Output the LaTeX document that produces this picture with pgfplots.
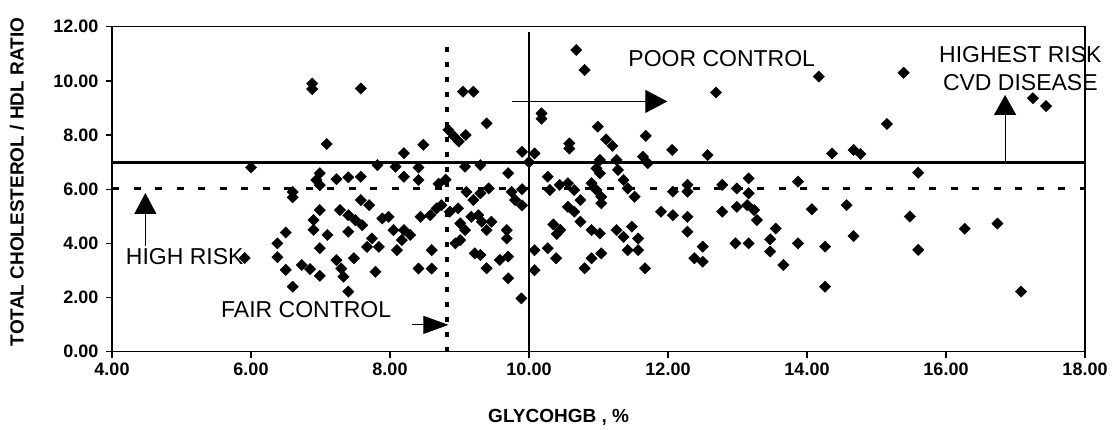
\documentclass[border=0pt]{standalone}
\usepackage{pgfplots}
\pgfplotsset{compat=1.18}
\usepackage{fontspec}
\setmainfont{Liberation Sans}
\usetikzlibrary{arrows.meta}

\begin{document}
\begin{tikzpicture}
\begin{axis}[
  width=973pt, height=325pt, scale only axis,
  xmin=4, xmax=18, ymin=0, ymax=12,
  xtick={4,6,...,18}, ytick={0,2,...,12},
  clip=false,
  axis line style={line width=1.3pt},
  tick style={line width=1.3pt, black},
  tick align=outside, major tick length=6pt,
  xtick pos=bottom, ytick pos=left,
  /pgf/number format/.cd, fixed, fixed zerofill, precision=2, assume math mode=true,
  /pgfplots/.cd,
  ticklabel style={font=\fontsize{18}{20}\selectfont\bfseries},
  xticklabel style={yshift=-2pt},
  yticklabel style={xshift=-4pt},
  xlabel={GLYCOHGB , \%},
  ylabel={TOTAL CHOLESTEROL / HDL RATIO},
  every axis x label/.style={at={(axis description cs:0.459,0)}, yshift=-66pt, anchor=center,
    font=\fontsize{19}{21}\selectfont\bfseries},
  every axis y label/.style={at={(axis description cs:0,0.522)}, xshift=-95pt, rotate=90, anchor=center,
    font=\fontsize{19}{21}\selectfont\bfseries},
]
% reference lines
\addplot[black, line width=2.8pt] coordinates {(4,7) (18,7)};
\addplot[black, line width=3.2pt, dash pattern=on 7pt off 14.5pt] coordinates {(4,6.03) (18,6.03)};
\addplot[black, line width=2.8pt] coordinates {(10,0) (10,11.82)};
\addplot[black, line width=3.2pt, dash pattern=on 4.5pt off 10.5pt] coordinates {(8.82,0) (8.82,11.45)};

% patients
\addplot[only marks, mark=square*, mark size=4pt,
  mark options={rotate=45, fill=black, draw=black}] table {
x y
5.91 3.46
6.00 6.80
6.38 4.00
6.38 3.49
6.50 4.40
6.50 3.02
6.60 2.40
6.60 5.90
6.60 5.70
6.73 3.20
6.85 3.05
6.88 9.90
6.88 9.70
6.90 4.86
6.90 4.50
6.99 6.59
6.94 6.34
6.99 6.15
6.99 5.23
6.99 3.82
6.99 2.80
7.10 4.31
7.09 7.67
7.23 6.37
7.40 6.44
7.40 4.43
7.23 3.38
7.30 3.07
7.33 2.77
7.40 2.22
7.28 5.23
7.40 5.04
7.50 4.86
7.60 4.67
7.48 3.45
7.58 9.72
7.58 6.46
7.58 5.60
7.70 5.41
7.67 3.87
7.74 4.18
7.84 3.87
7.79 2.95
7.82 6.89
7.89 4.92
7.98 4.98
8.05 4.49
8.08 6.83
8.10 3.75
8.17 4.12
8.20 4.49
8.20 7.33
8.20 6.46
8.29 4.31
8.41 6.80
8.41 6.34
8.41 3.07
8.44 4.98
8.48 7.64
8.58 5.04
8.60 3.75
8.60 3.07
8.67 5.29
8.70 6.20
8.80 6.35
8.74 5.41
8.84 8.19
8.86 5.17
8.92 7.95
8.99 7.76
8.98 5.29
8.94 4.00
9.01 4.74
9.01 4.12
9.08 6.83
9.08 4.49
9.09 8.00
9.05 9.60
9.20 9.60
9.10 5.90
9.20 5.60
9.30 5.85
9.42 6.03
9.17 4.98
9.22 3.63
9.27 5.04
9.32 4.80
9.46 4.80
9.39 4.49
9.30 6.89
9.39 8.43
9.30 3.57
9.39 3.08
9.58 3.39
9.70 3.51
9.70 2.71
9.68 4.49
9.68 4.18
9.70 6.59
9.75 5.90
9.90 6.00
9.80 5.60
9.90 5.40
9.89 1.97
9.90 7.38
10.08 7.32
10.00 7.00
10.08 3.75
10.08 3.01
10.18 8.80
10.18 8.60
10.27 6.46
10.27 3.82
10.39 3.45
10.30 5.97
10.44 6.16
10.56 6.22
10.65 5.97
10.74 5.60
10.56 5.35
10.65 5.17
10.74 4.80
10.35 4.70
10.45 4.50
10.40 4.35
10.58 7.69
10.58 7.50
10.68 11.14
10.80 10.40
10.80 3.08
10.90 3.45
11.04 3.63
10.90 4.49
11.02 4.37
10.90 6.22
10.97 5.97
11.04 5.72
11.04 5.48
10.97 6.77
11.02 7.08
11.02 6.59
10.99 8.31
11.11 7.84
11.20 7.60
11.26 7.08
11.28 6.71
11.36 6.34
11.42 6.03
11.52 5.72
11.64 7.20
11.71 6.96
11.68 7.97
11.26 4.49
11.48 4.62
11.36 4.24
11.57 4.18
11.42 3.75
11.57 3.75
11.67 3.08
11.90 5.17
12.06 7.45
12.57 7.26
12.69 9.57
12.28 6.16
12.28 5.91
12.07 5.91
12.78 6.16
12.99 6.03
13.16 6.40
13.16 5.85
13.14 5.41
13.24 5.23
13.28 4.86
12.99 5.35
12.78 5.17
12.07 5.04
12.28 4.98
12.28 4.43
12.50 3.88
12.38 3.45
12.50 3.32
12.97 4.00
13.16 4.00
13.55 4.55
13.47 4.15
13.47 3.70
13.66 3.20
13.87 6.28
14.07 5.26
13.87 4.00
14.26 3.88
14.26 2.40
14.57 5.41
14.67 4.27
14.17 10.16
15.39 10.30
15.15 8.41
17.25 9.36
17.44 9.07
14.36 7.32
14.67 7.45
14.77 7.30
15.60 6.61
15.48 4.99
15.60 3.76
16.27 4.54
16.74 4.73
17.08 2.22
};

% annotations
\node[font=\fontsize{23}{25}\selectfont, anchor=west] at (axis cs:4.15,3.53) {HIGH RISK};
\draw[line width=1pt, -{Triangle[width=22pt,length=21pt]}] (axis cs:4.48,3.9) -- (axis cs:4.48,5.86);
\node[font=\fontsize{23}{25}\selectfont, anchor=west] at (axis cs:5.52,1.54) {FAIR CONTROL};
\draw[line width=1pt, -{Triangle[width=18pt,length=25pt]}] (axis cs:8.31,0.99) -- (axis cs:8.84,0.99);
\node[font=\fontsize{23}{25}\selectfont, anchor=west] at (axis cs:11.38,10.82) {POOR CONTROL};
\draw[line width=1pt, -{Triangle[width=23pt,length=22pt]}] (axis cs:9.76,9.24) -- (axis cs:11.99,9.24);
\node[font=\fontsize{23}{25}\selectfont, align=center] at (axis cs:17.07,10.47) {HIGHEST RISK\\[3pt]CVD DISEASE};
\draw[line width=1pt, -{Triangle[width=22pt,length=20pt]}] (axis cs:16.85,7.0) -- (axis cs:16.85,9.48);

\coordinate (O) at (rel axis cs:0,0);
\end{axis}
\path (O) ++(-112pt,-78.3pt) rectangle ++(1115pt,430pt);
\end{tikzpicture}
\end{document}
